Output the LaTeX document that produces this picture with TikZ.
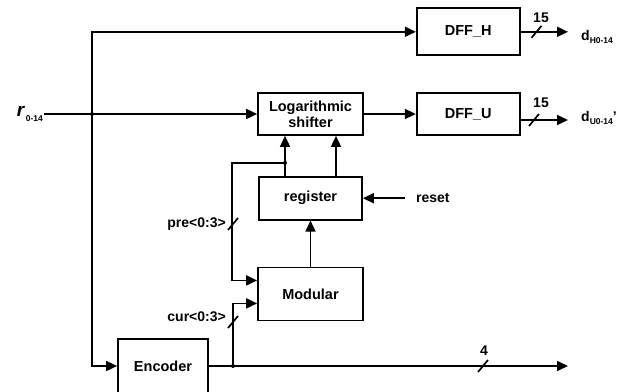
\documentclass[tikz,border=0pt]{standalone}
\usepackage{fontspec}
\setmainfont{Liberation Sans}
\usetikzlibrary{arrows.meta,positioning,calc}
\tikzset{
  blk/.style={rectangle,draw=black,line width=1.7pt,align=center,
              font=\bfseries\fontsize{14.5}{16}\selectfont,inner sep=0pt},
  lbl/.style={font=\bfseries\fontsize{14}{16}\selectfont,inner sep=1pt},
  wire/.style={line width=1.7pt},
  arr/.style={wire,-{Triangle[length=11pt,width=10pt]}}
}
\newcommand{\busmark}[1]{\draw[wire] (#1) ++(-5,6) -- ++(10,-12);}

\begin{document}
\begin{tikzpicture}[x=1pt,y=-1pt]
  \useasboundingbox (0,0) rectangle (634,391);

  % blocks
  \node[blk,minimum width=105pt,minimum height=42pt] (shifter) at (310.5,114)
      {Logarithmic\\shifter};
  \node[blk,minimum width=103pt,minimum height=42pt,right=52pt of shifter] (dffu) {DFF\_U};
  \node[blk,minimum width=103pt,minimum height=47pt,above=36pt of dffu] (dffh) {DFF\_H};
  \node[blk,minimum width=103pt,minimum height=43pt,below=40pt of shifter] (reg) {register};
  \node[blk,minimum width=105pt,minimum height=53pt,below=46pt of reg] (mod) {Modular};
  \node[blk,minimum width=90pt,minimum height=54pt] (enc) at (163,366) {Encoder};

  % labels
  \node[lbl,anchor=east] (rin) at (44,114)
      {{\fontsize{19}{19}\selectfont\itshape r}\raisebox{-5pt}{\fontsize{8.5}{8.5}\selectfont\,0-14}};
  \node[lbl,anchor=west] (dh) at (580,37)
      {d\raisebox{-3pt}{\fontsize{8.5}{8.5}\selectfont H0-14}};
  \node[lbl,anchor=west] (du) at (580,118)
      {d\raisebox{-3pt}{\fontsize{8.5}{8.5}\selectfont U0-14}'};
  \node[lbl,anchor=west] (rst) at ($(reg.east)+(52,0)$) {reset};
  \node[lbl,anchor=east] (pre) at (227,224) {pre<0:3>};
  \node[lbl,anchor=east] (cur) at (227,317) {cur<0:3>};
  \node[lbl] (nh) at (541,18) {15};
  \node[lbl] (nu) at (541,103) {15};
  \node[lbl] (ne) at (484,351) {4};

  \coordinate (split) at (92,114);
  \coordinate (eout) at (568,366);
  \coordinate (uout) at (568,120);
  \coordinate (rj) at ($(reg.north)+(-25.5,-13)$);
  \coordinate (cj) at (233,366);

  % connections
  \draw[arr] (rin.east) -- (shifter.west);
  \draw[arr] (split) |- (dffh.west);
  \draw[arr] (split) |- (enc.west);
  \draw[arr] (shifter.east) -- (dffu.west);
  \draw[arr] (dffh.east) -- (dffh.east -| eout);
  \draw[arr] ([yshift=-6pt]dffu.east) -- (uout);
  \draw[arr] (enc.east) -- (eout);
  \draw[arr] ($(reg.north)+(-25.5,0)$) -- ($(shifter.south)+(-25.5,0)$);
  \draw[arr] ($(reg.north)+(25.5,0)$) -- ($(shifter.south)+(25.5,0)$);
  \draw[arr] (rj) -| ($(mod.west)+(-25,-13.5)$) -- ($(mod.west)+(0,-13.5)$);
  \draw[arr] (cj) |- ($(mod.west)+(0,9.5)$);
  \draw[arr] (mod.north) -- (reg.south);
  \draw[arr] ([xshift=-10pt]rst.west) -- (reg.east);

  \fill (split) circle (2);
  \fill (rj) circle (2);
  \fill (cj) circle (2);

  % bus widths
  \busmark{$(dffh.east)+(16,0)$}
  \busmark{$(uout)+(-34,0)$}
  \busmark{483,366}
  \busmark{233,224}
  \busmark{233,322}
\end{tikzpicture}
\end{document}
